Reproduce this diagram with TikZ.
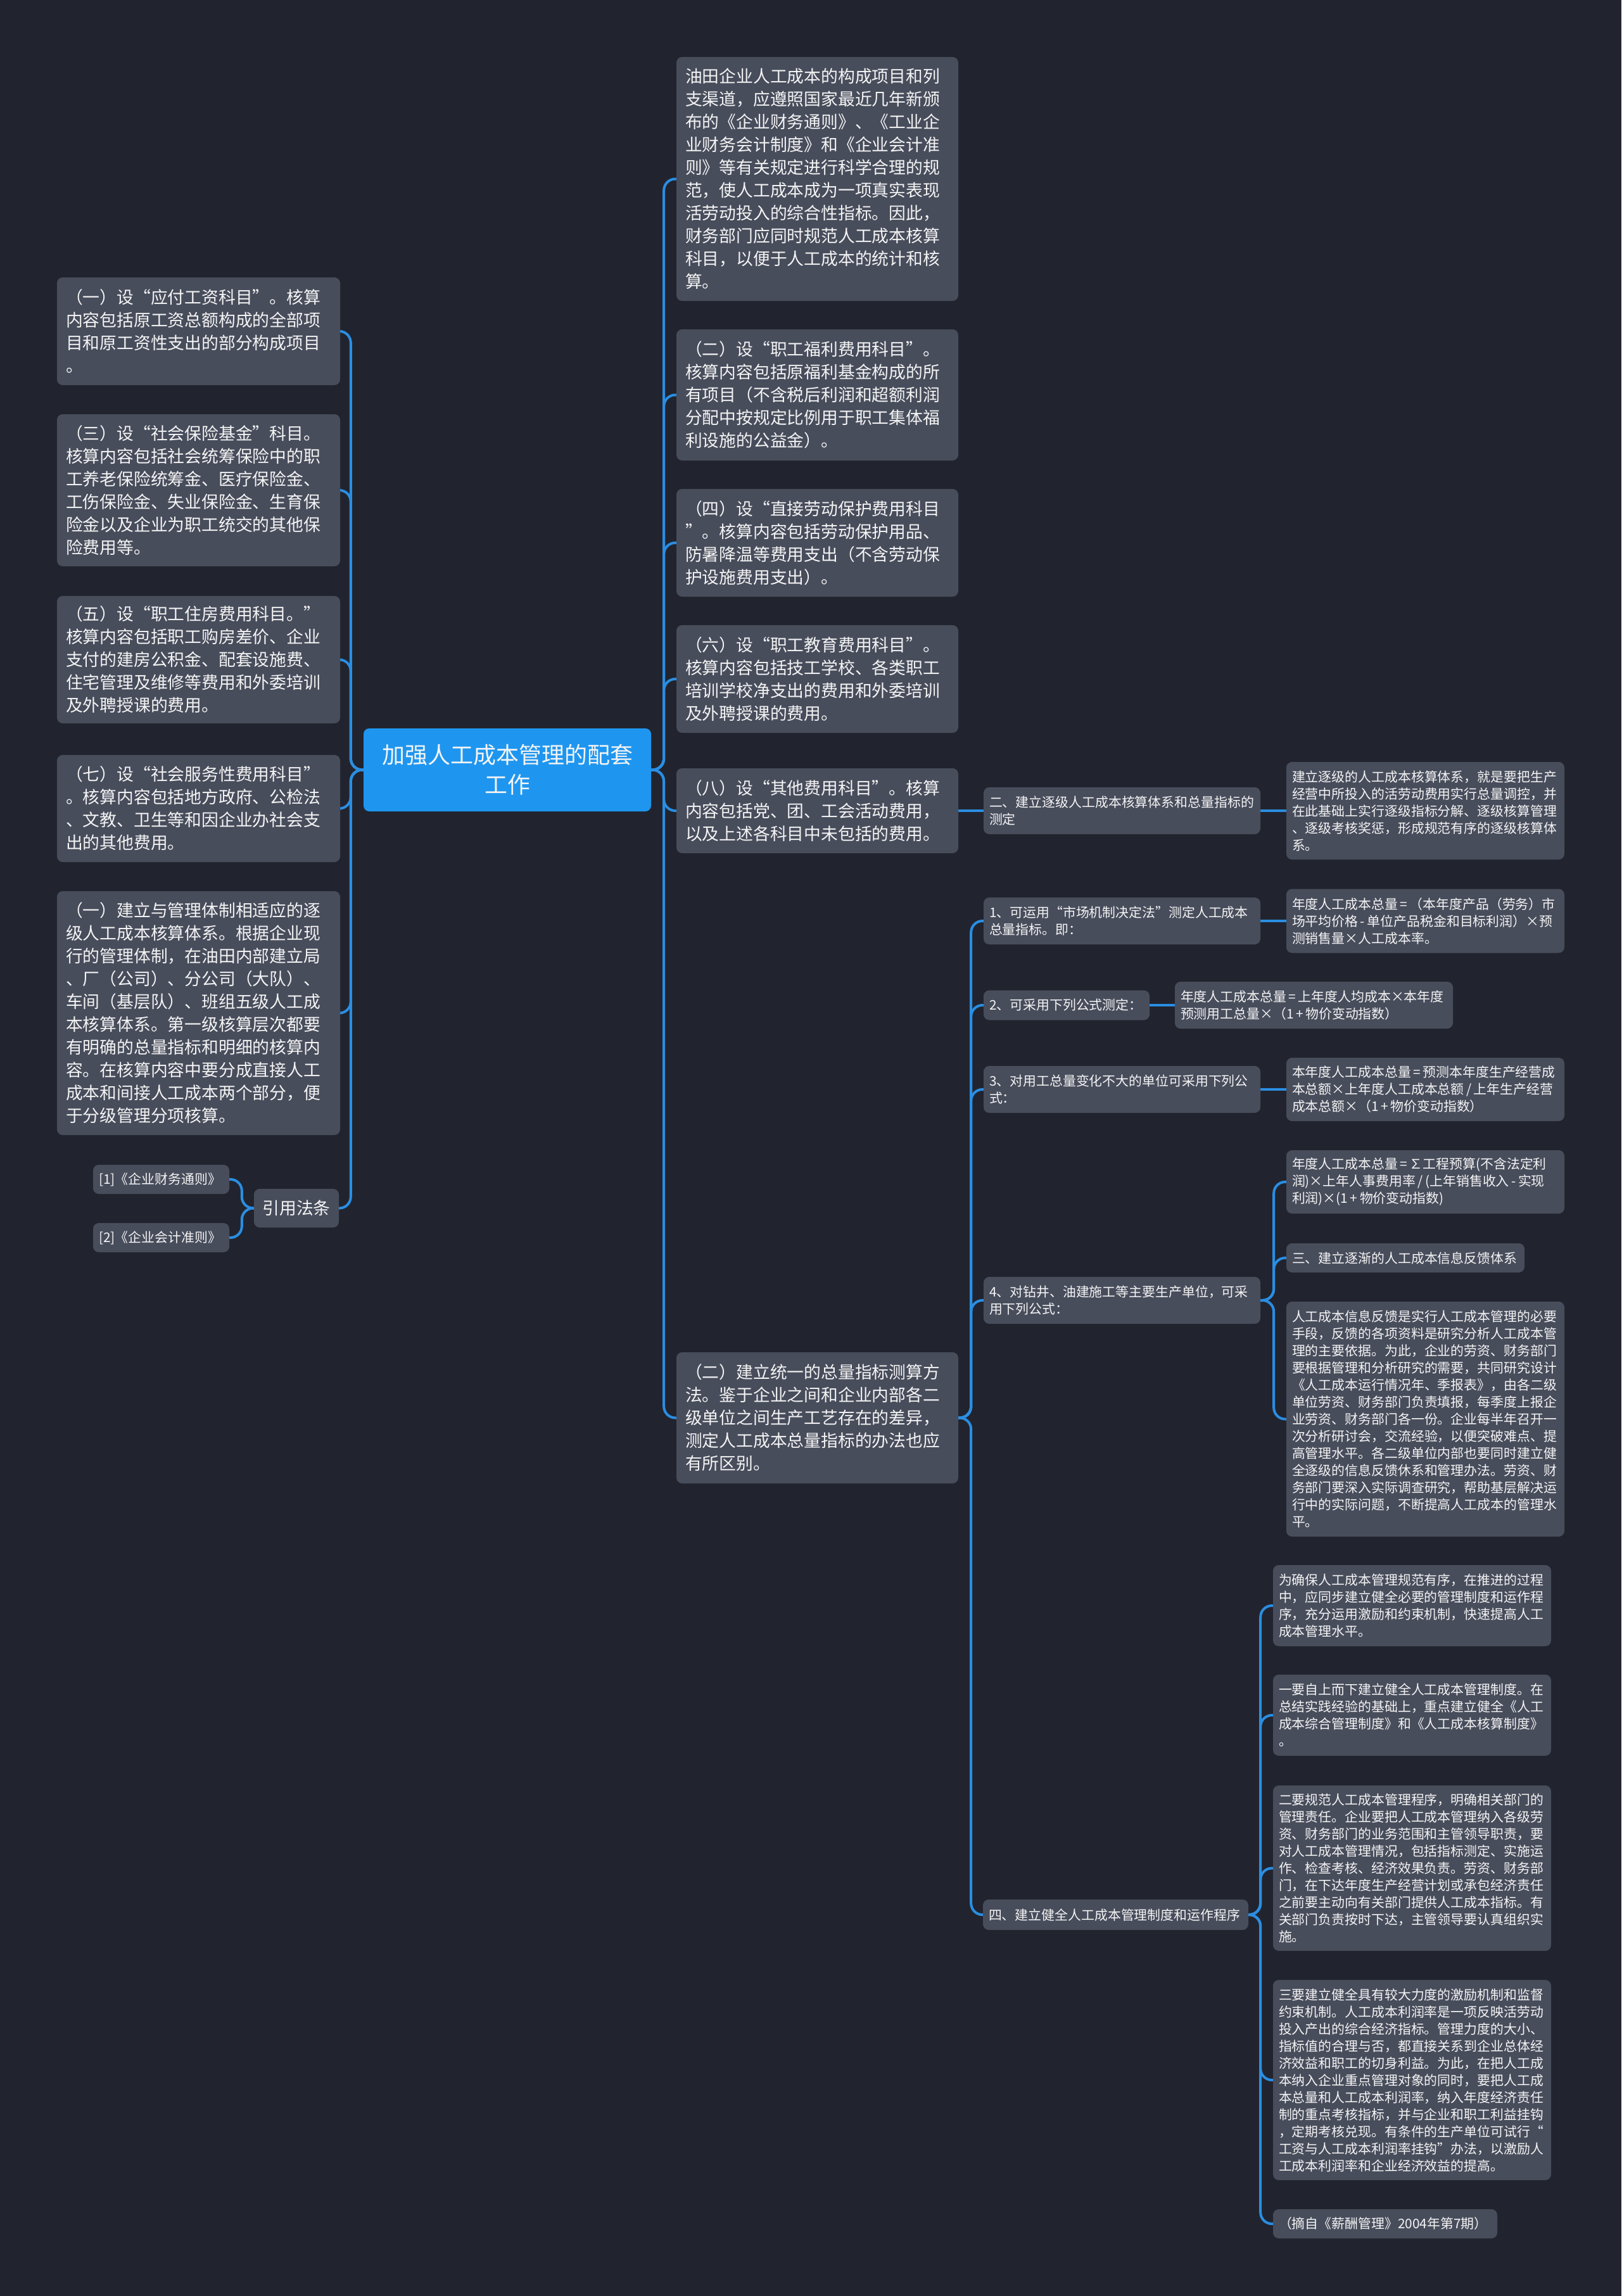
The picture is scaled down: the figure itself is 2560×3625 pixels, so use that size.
\documentclass[tikz,border=0pt]{standalone}
\usepackage{fontspec}
\setmainfont{Noto Sans CJK SC}
\usetikzlibrary{backgrounds}
\definecolor{bgc}{HTML}{21242E}
\definecolor{boxc}{HTML}{484D5C}
\definecolor{lnc}{HTML}{2A8EE3}
\definecolor{rootc}{HTML}{1E96F0}
\definecolor{txtc}{HTML}{F4F4F4}
\setlength{\parindent}{0pt}
\tikzset{
  base/.style={fill=boxc, rounded corners=9pt, text=txtc, inner ysep=0pt, align=left},
  bigbox/.style={base, inner xsep=14pt, font=\fontsize{26.8pt}{36pt}\selectfont},
  smallbox/.style={base, inner xsep=9pt, font=\fontsize{20.9pt}{27pt}\selectfont},
  sz/.style n args={3}{minimum width=#1pt, text width=#2pt, minimum height=#3pt},
  rootbox/.style={fill=rootc, rounded corners=9pt, text=txtc, inner xsep=14pt, inner ysep=0pt, align=center, font=\fontsize{36pt}{47pt}\selectfont},
  citebox/.style={base, inner xsep=12pt, align=center, font=\fontsize{26.8pt}{36pt}\selectfont},
  conn/.style={draw=lnc, line width=4pt, rounded corners=18pt},
}
\begin{document}
\begin{tikzpicture}[x=1pt,y=-1pt]
\useasboundingbox (0,0) rectangle (2560,3625);

% root
\node[rootbox, sz={454}{426}{131}] (root) at (801,1215.5) {加强人工成本管理的配套\\工作};

% left column
\node[bigbox, sz={447}{419}{170}] (l1) at (313.5,523) {（一）设“应付工资科目”。核算\\内容包括原工资总额构成的全部项\\目和原工资性支出的部分构成项目\\。};
\node[bigbox, sz={447}{419}{240}] (l2) at (313.5,774) {（三）设“社会保险基金”科目。\\核算内容包括社会统筹保险中的职\\工养老保险统筹金、医疗保险金、\\工伤保险金、失业保险金、生育保\\险金以及企业为职工统交的其他保\\险费用等。};
\node[bigbox, sz={447}{419}{201}] (l3) at (313.5,1041.5) {（五）设“职工住房费用科目。”\\核算内容包括职工购房差价、企业\\支付的建房公积金、配套设施费、\\住宅管理及维修等费用和外委培训\\及外聘授课的费用。};
\node[bigbox, sz={447}{419}{169}] (l4) at (313.5,1276.5) {（七）设“社会服务性费用科目”\\。核算内容包括地方政府、公检法\\、文教、卫生等和因企业办社会支\\出的其他费用。};
\node[bigbox, sz={447}{419}{385}] (l5) at (313.5,1599.5) {（一）建立与管理体制相适应的逐\\级人工成本核算体系。根据企业现\\行的管理体制，在油田内部建立局\\、厂（公司）、分公司（大队）、\\车间（基层队）、班组五级人工成\\本核算体系。第一级核算层次都要\\有明确的总量指标和明细的核算内\\容。在核算内容中要分成直接人工\\成本和间接人工成本两个部分，便\\于分级管理分项核算。};
\node[citebox, minimum width=134pt, text width=110pt, minimum height=61pt] (cite) at (468,1907.5) {引用法条};
\node[smallbox, sz={215}{197}{46}] (c1) at (254.5,1862) {[1]《企业财务通则》};
\node[smallbox, sz={215}{197}{46}] (c2) at (254.5,1954) {[2]《企业会计准则》};

% middle column
\node[bigbox, sz={445}{417}{385}] (m1) at (1290.5,282.5) {油田企业人工成本的构成项目和列\\支渠道，应遵照国家最近几年新颁\\布的《企业财务通则》、《工业企\\业财务会计制度》和《企业会计准\\则》等有关规定进行科学合理的规\\范，使人工成本成为一项真实表现\\活劳动投入的综合性指标。因此，\\财务部门应同时规范人工成本核算\\科目，以便于人工成本的统计和核\\算。};
\node[bigbox, sz={445}{417}{207}] (m2) at (1290.5,623.5) {（二）设“职工福利费用科目”。\\核算内容包括原福利基金构成的所\\有项目（不含税后利润和超额利润\\分配中按规定比例用于职工集体福\\利设施的公益金）。};
\node[bigbox, sz={445}{417}{170}] (m3) at (1290.5,857) {（四）设“直接劳动保护费用科目\\”。核算内容包括劳动保护用品、\\防暑降温等费用支出（不含劳动保\\护设施费用支出）。};
\node[bigbox, sz={445}{417}{170}] (m4) at (1290.5,1072) {（六）设“职工教育费用科目”。\\核算内容包括技工学校、各类职工\\培训学校净支出的费用和外委培训\\及外聘授课的费用。};
\node[bigbox, sz={445}{417}{134}] (m5) at (1290.5,1280) {（八）设“其他费用科目”。核算\\内容包括党、团、工会活动费用，\\以及上述各科目中未包括的费用。};
\node[bigbox, sz={445}{417}{207}] (m6) at (1290.5,2238.5) {（二）建立统一的总量指标测算方\\法。鉴于企业之间和企业内部各二\\级单位之间生产工艺存在的差异，\\测定人工成本总量指标的办法也应\\有所区别。};

% third column
\node[smallbox, sz={437}{419}{74}] (b2) at (1771.5,1280) {二、建立逐级人工成本核算体系和总量指标的\\测定};
\node[smallbox, sz={437}{419}{74}] (b3) at (1771.5,1454) {1、可运用“市场机制决定法”测定人工成本\\总量指标。即：};
\node[smallbox, sz={262}{244}{47}] (b4) at (1684,1587) {2、可采用下列公式测定：};
\node[smallbox, sz={437}{419}{74}] (b5) at (1771.5,1720) {3、对用工总量变化不大的单位可采用下列公\\式：};
\node[smallbox, sz={437}{419}{74}] (b6) at (1771.5,2053) {4、对钻井、油建施工等主要生产单位，可采\\用下列公式：};
\node[smallbox, sz={419}{401}{48}] (b7) at (1761.5,3023) {四、建立健全人工成本管理制度和运作程序};

% right column
\node[smallbox, sz={439}{421}{154}] (r2) at (2250.5,1280) {建立逐级的人工成本核算体系，就是要把生产\\经营中所投入的活劳动费用实行总量调控，并\\在此基础上实行逐级指标分解、逐级核算管理\\、逐级考核奖惩，形成规范有序的逐级核算体\\系。};
\node[smallbox, sz={439}{421}{101}] (r3) at (2250.5,1454) {年度人工成本总量\,=\,（本年度产品（劳务）市\\场平均价格\,-\,单位产品税金和目标利润）×预\\测销售量×人工成本率。};
\node[smallbox, sz={439}{421}{74}] (r4) at (2074.5,1587) {年度人工成本总量\,=\,上年度人均成本×本年度\\预测用工总量×（1\,+\,物价变动指数）};
\node[smallbox, sz={439}{421}{100}] (r5) at (2250.5,1720) {本年度人工成本总量\,=\,预测本年度生产经营成\\本总额×上年度人工成本总额\,/\,上年生产经营\\成本总额×（1\,+\,物价变动指数）};
\node[smallbox, sz={439}{421}{100}] (r6a) at (2250.5,1866) {年度人工成本总量\,=\,∑工程预算(不含法定利\\润)×上年人事费用率\,/\,(上年销售收入\,-\,实现\\利润)×(1\,+\,物价变动指数)};
\node[smallbox, sz={376}{358}{46}] (r6b) at (2219,1986) {三、建立逐渐的人工成本信息反馈体系};
\node[smallbox, sz={439}{421}{371}] (r6c) at (2250.5,2240.5) {人工成本信息反馈是实行人工成本管理的必要\\手段，反馈的各项资料是研究分析人工成本管\\理的主要依据。为此，企业的劳资、财务部门\\要根据管理和分析研究的需要，共同研究设计\\《人工成本运行情况年、季报表》，由各二级\\单位劳资、财务部门负责填报，每季度上报企\\业劳资、财务部门各一份。企业每半年召开一\\次分析研讨会，交流经验，以便突破难点、提\\高管理水平。各二级单位内部也要同时建立健\\全逐级的信息反馈休系和管理办法。劳资、财\\务部门要深入实际调查研究，帮助基层解决运\\行中的实际问题，不断提高人工成本的管理水\\平。};
\node[smallbox, sz={439}{421}{128}] (r7a) at (2229.5,2535) {为确保人工成本管理规范有序，在推进的过程\\中，应同步建立健全必要的管理制度和运作程\\序，充分运用激励和约束机制，快速提高人工\\成本管理水平。};
\node[smallbox, sz={439}{421}{128}] (r7b) at (2229.5,2708) {一要自上而下建立健全人工成本管理制度。在\\总结实践经验的基础上，重点建立健全《人工\\成本综合管理制度》和《人工成本核算制度》\\。};
\node[smallbox, sz={439}{421}{261}] (r7c) at (2229.5,2949.5) {二要规范人工成本管理程序，明确相关部门的\\管理责任。企业要把人工成本管理纳入各级劳\\资、财务部门的业务范围和主管领导职责，要\\对人工成本管理情况，包括指标测定、实施运\\作、检查考核、经济效果负责。劳资、财务部\\门，在下达年度生产经营计划或承包经济责任\\之前要主动向有关部门提供人工成本指标。有\\关部门负责按时下达，主管领导要认真组织实\\施。};
\node[smallbox, sz={439}{421}{316}] (r7d) at (2229.5,3284) {三要建立健全具有较大力度的激励机制和监督\\约束机制。人工成本利润率是一项反映活劳动\\投入产出的综合经济指标。管理力度的大小、\\指标值的合理与否，都直接关系到企业总体经\\济效益和职工的切身利益。为此，在把人工成\\本纳入企业重点管理对象的同时，要把人工成\\本总量和人工成本利润率，纳入年度经济责任\\制的重点考核指标，并与企业和职工利益挂钩\\，定期考核兑现。有条件的生产单位可试行“\\工资与人工成本利润率挂钩”办法，以激励人\\工成本利润率和企业经济效益的提高。};
\node[smallbox, sz={354}{336}{46}] (r7e) at (2187,3511) {（摘自《薪酬管理》2004年第7期）};

\begin{pgfonlayer}{background}
\fill[bgc] (0,0) rectangle (2560,3625);
% root to middle
\foreach \n in {m1,m2,m3,m4,m5,m6}
  \draw[conn] (root.east) -- ++(20,0) |- (\n.west);
% root to left
\foreach \n in {l1,l2,l3,l4,l5,cite}
  \draw[conn] (root.west) -- ++(-20,0) |- (\n.east);
\foreach \n in {c1,c2}
  \draw[conn] (cite.west) -- ++(-19,0) |- (\n.east);
\draw[conn] (m5.east) -- (b2.west);
\draw[conn] (b2.east) -- (r2.west);
\foreach \n in {b3,b4,b5,b6,b7}
  \draw[conn] (m6.east) -- ++(20,0) |- (\n.west);
\draw[conn] (b3.east) -- (r3.west);
\draw[conn] (b4.east) -- (r4.west);
\draw[conn] (b5.east) -- (r5.west);
\foreach \n in {r6a,r6b,r6c}
  \draw[conn] (b6.east) -- ++(21,0) |- (\n.west);
\foreach \n in {r7a,r7b,r7c,r7d,r7e}
  \draw[conn] (b7.east) -- ++(19,0) |- (\n.west);
\end{pgfonlayer}
\end{tikzpicture}
\end{document}
